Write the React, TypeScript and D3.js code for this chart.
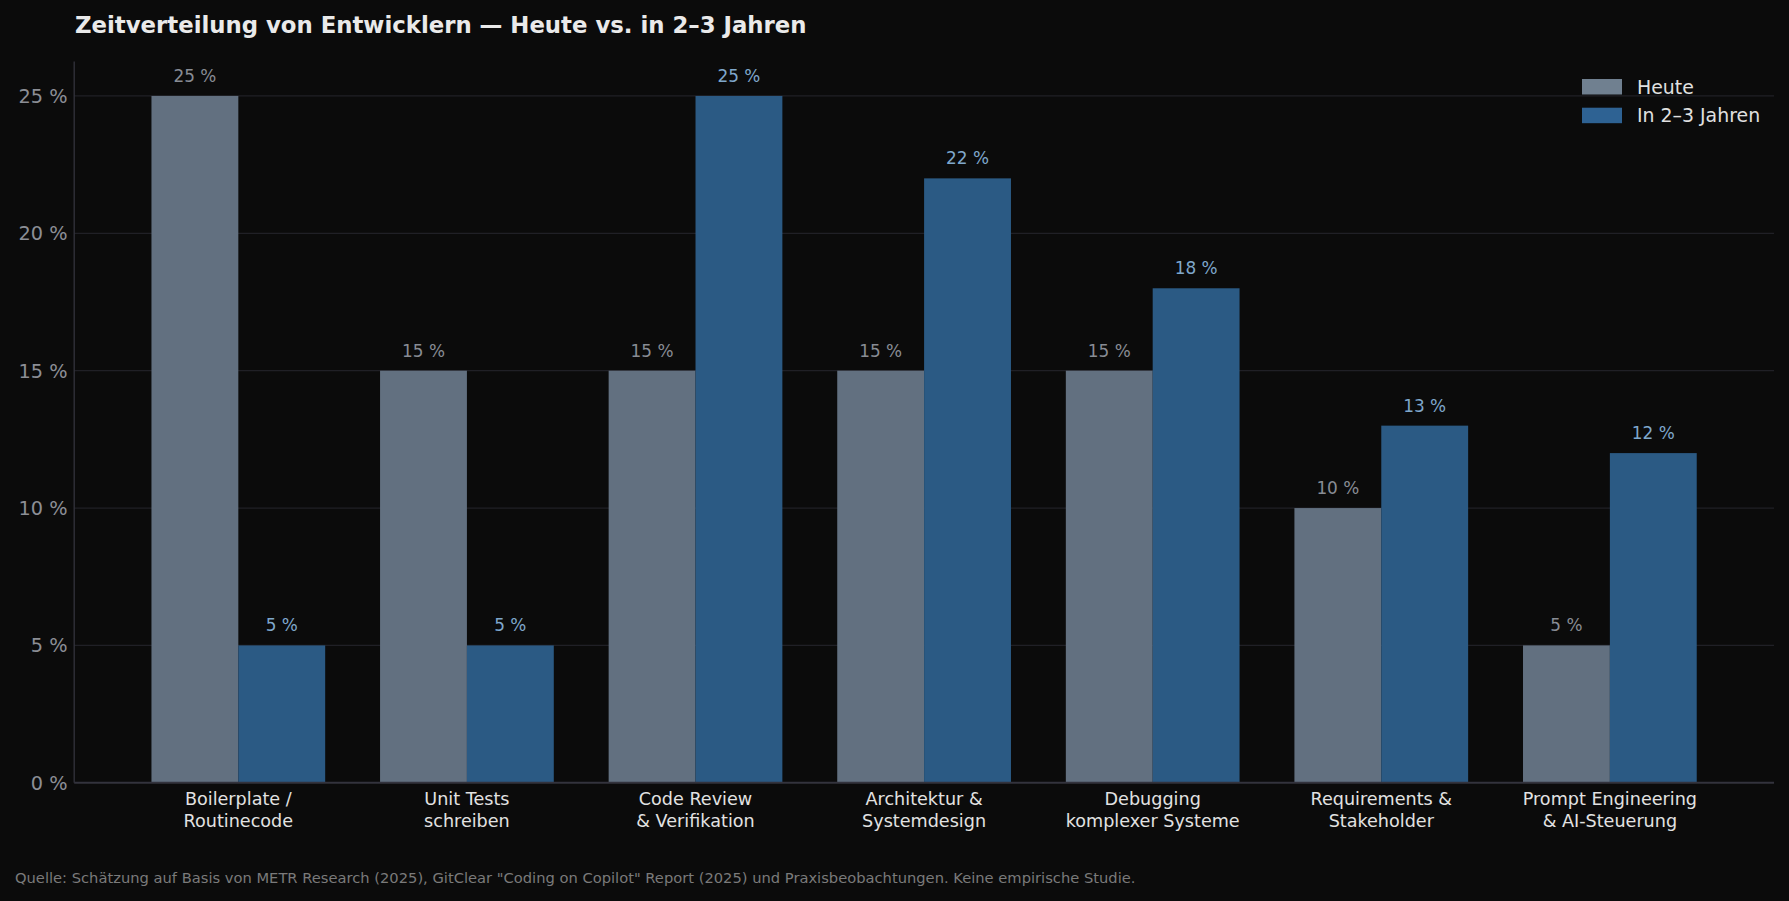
import React from "react";
import * as d3 from "d3";

const categories = [
  ["Boilerplate /", "Routinecode"],
  ["Unit Tests", "schreiben"],
  ["Code Review", "& Verifikation"],
  ["Architektur &", "Systemdesign"],
  ["Debugging", "komplexer Systeme"],
  ["Requirements &", "Stakeholder"],
  ["Prompt Engineering", "& AI-Steuerung"],
];
const heute = [25, 15, 15, 15, 15, 10, 5];
const spaeter = [5, 5, 25, 22, 18, 13, 12];
const yTicks = [0, 5, 10, 15, 20, 25];
const seriesNames = ["Heute", "In 2–3 Jahren"];

const W = 1789;
const H = 901;
const FONT = "DejaVu Sans, sans-serif";
const BG = "#0b0b0b";
const BAR_H = "#627080";
const BAR_F = "#2b5a84";
const LEG_H = "#708090";
const LEG_F = "#2e6293";

export default function App() {
  const left = 74.2, right = 1774, top = 61.6, bottom = 782.8;
  const bw = 0.38;
  const n = categories.length;
  const pad = (n - 1 + 2 * bw) * 0.05;
  const x = d3.scaleLinear().domain([-bw - pad, n - 1 + bw + pad]).range([left, right]);
  const y = d3.scaleLinear().domain([0, 26.25]).range([bottom, top]);
  const pxw = x(bw) - x(0);

  return (
    <svg width={W} height={H} style={{ display: "block", position: "absolute", left: 0, top: 0, background: BG }} fontFamily={FONT}>
      <rect x={0} y={0} width={W} height={H} fill={BG} />
      {/* grid */}
      {yTicks.filter((t) => t > 0).map((t) => (
        <line key={t} x1={left} x2={right} y1={y(t)} y2={y(t)} stroke="#202026" strokeWidth={1.2} />
      ))}
      {/* bars */}
      {heute.map((v, i) => (
        <rect key={"h" + i} x={x(i) - pxw} y={y(v)} width={pxw} height={y(0) - y(v)} fill={BAR_H} />
      ))}
      {spaeter.map((v, i) => (
        <rect key={"f" + i} x={x(i)} y={y(v)} width={pxw} height={y(0) - y(v)} fill={BAR_F} />
      ))}
      {/* bar labels */}
      {heute.map((v, i) => (
        <text key={"lh" + i} x={x(i) - pxw / 2} y={y(v) - 14} textAnchor="middle" fontSize={16.9} fill="#888c94">
          {v} %
        </text>
      ))}
      {spaeter.map((v, i) => (
        <text key={"lf" + i} x={x(i) + pxw / 2} y={y(v) - 14} textAnchor="middle" fontSize={16.9} fill="#7fa7cb">
          {v} %
        </text>
      ))}
      {/* spines */}
      <line x1={left} x2={left} y1={top} y2={bottom} stroke="#33333d" strokeWidth={1.3} />
      <line x1={left} x2={right} y1={bottom} y2={bottom} stroke="#33333d" strokeWidth={2} />
      {/* y ticks */}
      {yTicks.map((t) => (
        <text key={"yt" + t} x={67.5} y={y(t)} dy="0.36em" textAnchor="end" fontSize={19.3} fill="#8c8e95">
          {t} %
        </text>
      ))}
      {/* x labels */}
      {categories.map((c, i) => (
        <text key={"xl" + i} x={x(i)} y={804.5} textAnchor="middle" fontSize={17.6} fill="#e2e2e2">
          {c.map((line, j) => (
            <tspan key={j} x={x(i)} dy={j === 0 ? 0 : 22.5}>
              {line}
            </tspan>
          ))}
        </text>
      ))}
      {/* title */}
      <text x={75} y={33} fontSize={22.8} fontWeight="bold" fill="#eaeaea">
        Zeitverteilung von Entwicklern — Heute vs. in 2–3 Jahren
      </text>
      {/* legend */}
      {seriesNames.map((s, i) => (
        <g key={s}>
          <rect x={1582} y={79 + i * 28.7} width={40} height={15.5} fill={i === 0 ? LEG_H : LEG_F} />
          <text x={1637} y={86.8 + i * 28.7} dy="0.36em" fontSize={18.9} fill="#e0e0e0">
            {s}
          </text>
        </g>
      ))}
      {/* footnote */}
      <text x={15} y={883} fontSize={14.7} fill="#7a7a7a">
        Quelle: Schätzung auf Basis von METR Research (2025), GitClear "Coding on Copilot" Report (2025) und Praxisbeobachtungen. Keine empirische Studie.
      </text>
    </svg>
  );
}
